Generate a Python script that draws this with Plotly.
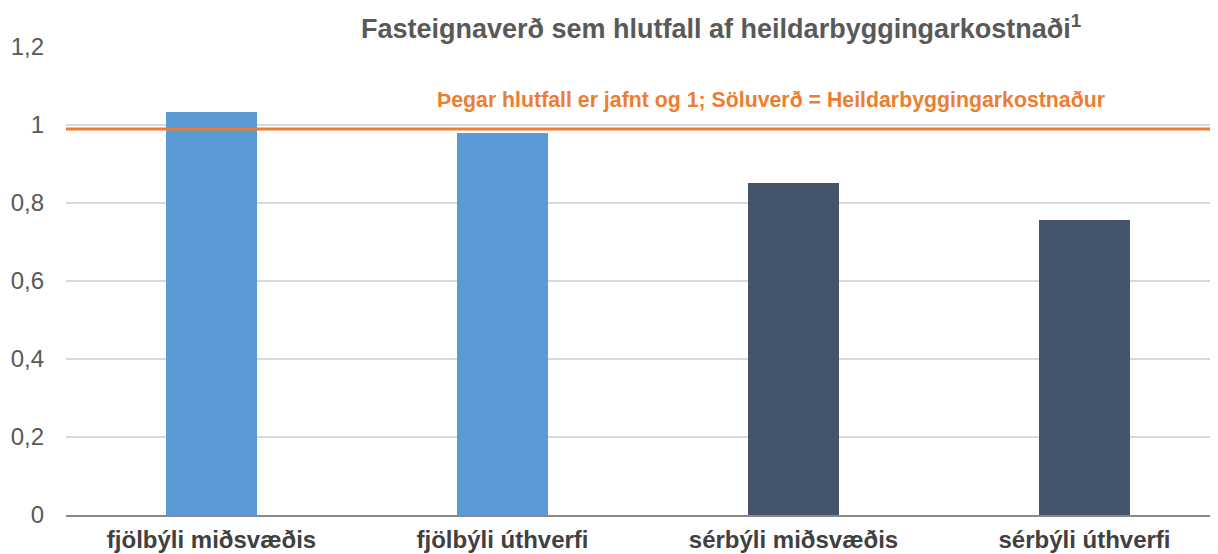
import plotly.graph_objects as go

categories = ["fjölbýli miðsvæðis", "fjölbýli úthverfi", "sérbýli miðsvæðis", "sérbýli úthverfi"]
values = [1.034, 0.979, 0.851, 0.756]
bar_colors = ["#5B9BD5", "#5B9BD5", "#44546A", "#44546A"]
ref_value = 0.99
y_ticks = [0, 0.2, 0.4, 0.6, 0.8, 1.0, 1.2]
y_tick_labels = ["0", "0,2", "0,4", "0,6", "0,8", "1", "1,2"]
title_text = "<b>Fasteignaverð sem hlutfall af heildarbyggingarkostnaði<sup>1</sup></b>"
ref_label = "<b>Þegar hlutfall er jafnt og 1; Söluverð = Heildarbyggingarkostnaður</b>"

FONT = "Liberation Sans, Arial, sans-serif"

fig = go.Figure()
fig.add_trace(go.Bar(
    x=list(range(len(categories))), y=values,
    marker=dict(color=bar_colors, line=dict(width=0)),
    width=0.316, hoverinfo="skip",
))

fig.add_shape(type="line", xref="paper", yref="y", x0=0, x1=1, y0=ref_value, y1=ref_value,
              line=dict(color="#ED7D31", width=3), layer="above")

fig.add_annotation(text=ref_label, xref="paper", yref="y", x=(771 - 66) / 1152, y=1.064,
                   showarrow=False, font=dict(family=FONT, size=21.3, color="#ED7D31"),
                   xanchor="center", yanchor="middle")

fig.add_annotation(text=title_text, xref="paper", yref="paper", x=(721 - 66) / 1152,
                   y=(515 - 27) / 468, yanchor="middle", xanchor="center", showarrow=False,
                   font=dict(family=FONT, size=27, color="#595959"))

fig.update_layout(
    width=1210, height=546,
    margin=dict(l=58, r=0, t=39, b=39),
    plot_bgcolor="white", paper_bgcolor="white",
    showlegend=False,
    font=dict(family=FONT, color="#595959"),
    xaxis=dict(
        range=[-0.5, -0.5 + 1152 / 291],
        tickmode="array", tickvals=list(range(len(categories))),
        ticktext=[f"<b>{c}</b>" for c in categories],
        tickfont=dict(family=FONT, size=24, color="#404040"),
        showgrid=False, zeroline=False,
        showline=True, linecolor="#898989", linewidth=2,
        ticks="", ticklabelstandoff=2,
    ),
    yaxis=dict(
        range=[0, 1.2],
        tickmode="array", tickvals=y_ticks, ticktext=y_tick_labels,
        tickfont=dict(family=FONT, size=24, color="#595959"),
        showgrid=True, gridcolor="#D9D9D9", gridwidth=1.5,
        zeroline=False, showline=False, ticks="", ticklabelstandoff=21,
    ),
    bargap=0,
)

fig.write_html("out.html")
